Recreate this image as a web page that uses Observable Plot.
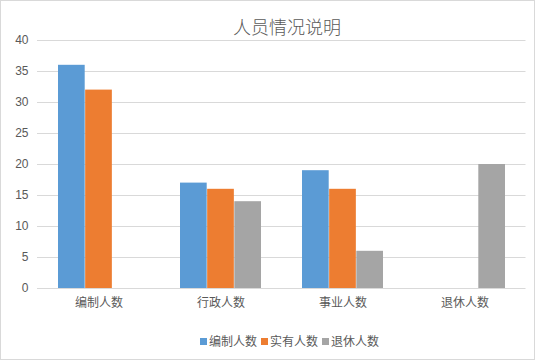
<!DOCTYPE html>
<html>
<head>
<meta charset="utf-8">
<script src="https://cdn.jsdelivr.net/npm/d3@7"></script>
<script src="https://cdn.jsdelivr.net/npm/@observablehq/plot@0.6"></script>
<style>
  body { margin: 0; background: #fff; }
  #wrap { position: relative; width: 535px; height: 360px; overflow: hidden; background: #fff;
          font-family: "Liberation Sans", "Noto Sans CJK SC", sans-serif; }
  #border { position: absolute; left: 0; top: 0; width: 533px; height: 358px; border: 1px solid #d9d9d9; pointer-events: none; }
  #title { position: absolute; left: 43px; width: 488px; top: 14px; text-align: center; font-size: 18px; line-height: 24px;
           color: #595959; font-family: "Noto Sans CJK SC", sans-serif; font-weight: 300; }
  #chart { position: absolute; left: 0; top: 30px; }
  #legend { position: absolute; left: 0; width: 579px; top: 332px; text-align: center; font-size: 12px; line-height: 18px;
            color: #595959; font-family: "Noto Sans CJK SC", sans-serif; }
  .item { display: inline-block; margin: 0 2px; }
  .sw { display: inline-block; width: 7px; height: 7px; margin-right: 2px; vertical-align: 1px; }
</style>
</head>
<body>
<div id="wrap">
  <div id="title">人员情况说明</div>
  <div id="chart"></div>
  <div id="legend"></div>
  <div id="border"></div>
</div>
<script>
const categories = ["编制人数", "行政人数", "事业人数", "退休人数"];
const series = ["编制人数", "实有人数", "退休人数"];
const bianzhi = [36, 17, 19, null];
const shiyou = [32, 16, 16, null];
const tuixiu = [null, 14, 6, 20];
const colors = ["#5B9BD5", "#ED7D31", "#A5A5A5"];
const yTicks = [0, 5, 10, 15, 20, 25, 30, 35, 40];

const seriesValues = [bianzhi, shiyou, tuixiu];
const data = [];
categories.forEach((c, i) => {
  series.forEach((s, j) => {
    const v = seriesValues[j][i];
    if (v != null) data.push({category: c, series: s, value: v});
  });
});

// group layout: each category band holds 3 equal bars side by side
const width = 535, marginLeft = 37, marginRight = 9.5;
const pInner = 0.333, pOuter = 0.1665;
const step = (width - marginLeft - marginRight) / (categories.length - pInner + 2 * pOuter);
const bandwidth = step * (1 - pInner);
const barW = bandwidth / series.length;

const marks = [
  Plot.ruleY(yTicks, {stroke: "#d9d9d9", strokeWidth: 1}),
  ...series.map((s, j) => Plot.barY(data.filter(d => d.series === s), {
    x: "category", y: "value", fill: "series",
    insetLeft: j * barW, insetRight: (series.length - 1 - j) * barW
  })),
  Plot.axisY({ticks: yTicks, tickSize: 0, tickPadding: 9, label: null}),
  Plot.axisX({anchor: "bottom", tickSize: 0, tickPadding: 10, label: null})
];

const chart = Plot.plot({
  width,
  height: 290,
  marginTop: 10,
  marginBottom: 32,
  marginLeft,
  marginRight,
  style: {color: "#595959", fontSize: "12px", fontFamily: "'Liberation Sans', 'Noto Sans CJK SC', sans-serif", background: "transparent"},
  x: {domain: categories, paddingInner: pInner, paddingOuter: pOuter},
  y: {domain: [0, 40]},
  color: {domain: series, range: colors},
  marks
});
document.getElementById("chart").appendChild(chart);

const legend = document.getElementById("legend");
series.forEach((s, j) => {
  const item = document.createElement("span");
  item.className = "item";
  const sw = document.createElement("span");
  sw.className = "sw";
  sw.style.background = colors[j];
  item.appendChild(sw);
  item.appendChild(document.createTextNode(s));
  legend.appendChild(item);
});
</script>
</body>
</html>
